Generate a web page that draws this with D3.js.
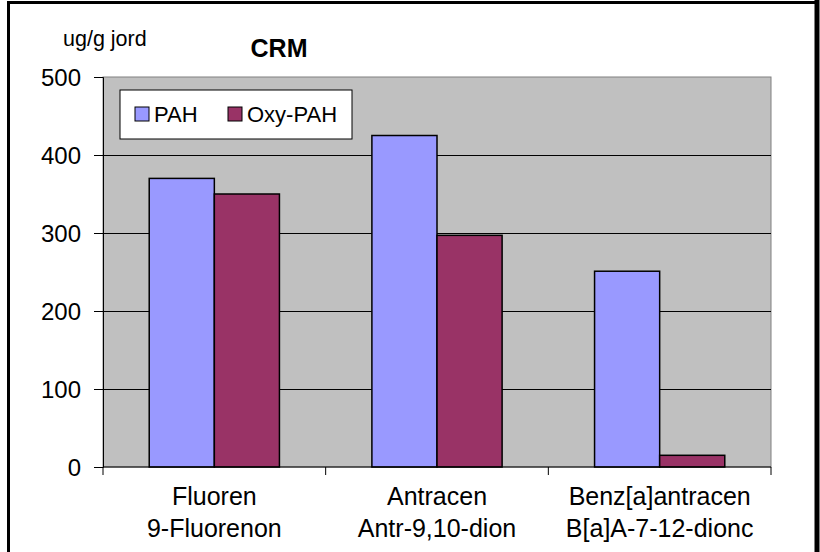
<!DOCTYPE html>
<html>
<head>
<meta charset="utf-8">
<script src="https://cdn.jsdelivr.net/npm/d3@7"></script>
<style>
  body { margin: 0; background: #fff; }
  svg text { font-family: "Liberation Sans", Arial, sans-serif; fill: #000; }
</style>
</head>
<body>
<div id="chart"></div>
<script>
// Data
var categories = [["Fluoren", "9-Fluorenon"], ["Antracen", "Antr-9,10-dion"], ["Benz[a]antracen", "B[a]A-7-12-dionc"]];
var seriesNames = ["PAH", "Oxy-PAH"];
var pahValues = [370, 425, 251];
var oxyValues = [350, 297, 15];
var yTicks = [0, 100, 200, 300, 400, 500];

var colors = ["#9999ff", "#993366"];

var W = 820, H = 552;
var margin = {top: 77, right: 49, bottom: 85, left: 103};
var width = W - margin.left - margin.right,
    height = H - margin.top - margin.bottom;

var svg = d3.select('#chart').append('svg')
  .attr('width', W)
  .attr('height', H);

// outer frame
svg.append('rect')
  .attr('x', 8.5).attr('y', 2.5)
  .attr('width', 808).attr('height', 560)
  .attr('fill', 'none')
  .attr('stroke', '#000')
  .attr('stroke-width', 3);
svg.append('line')
  .attr('x1', 817).attr('x2', 817)
  .attr('y1', 0).attr('y2', H)
  .attr('stroke', '#000')
  .attr('stroke-width', 5);

var g = svg.append('g')
  .attr('transform', 'translate(' + margin.left + ',' + margin.top + ')');

// scales
var x0 = d3.scaleBand()
  .domain(d3.range(categories.length))
  .range([0, width]);

var x1 = d3.scaleBand()
  .domain(d3.range(seriesNames.length))
  .range([0, x0.bandwidth()])
  .paddingOuter(0.71)
  .paddingInner(0);

var y = d3.scaleLinear()
  .domain([0, 500])
  .range([height, 0]);

// plot background
g.append('rect')
  .attr('width', width)
  .attr('height', height)
  .attr('fill', '#c0c0c0')
  .attr('stroke', '#808080')
  .attr('stroke-width', 1);

// gridlines
g.append('g')
  .selectAll('line')
  .data(yTicks.filter(function(d){ return d > 0 && d < 500; }))
  .enter().append('line')
  .attr('x1', 0).attr('x2', width)
  .attr('y1', function(d){ return Math.round(y(d)) + 0.5; })
  .attr('y2', function(d){ return Math.round(y(d)) + 0.5; })
  .attr('stroke', '#000')
  .attr('stroke-width', 1);

// bars
var data = categories.map(function(c, i){
  return {cat: i, values: [pahValues[i], oxyValues[i]]};
});

g.append('g')
  .selectAll('g')
  .data(data)
  .enter().append('g')
  .attr('transform', function(d){ return 'translate(' + x0(d.cat) + ',0)'; })
  .selectAll('rect')
  .data(function(d){ return d.values.map(function(v, j){ return {s: j, v: v}; }); })
  .enter().append('rect')
  .attr('x', function(d){ return x1(d.s); })
  .attr('y', function(d){ return y(d.v); })
  .attr('width', x1.bandwidth())
  .attr('height', function(d){ return height - y(d.v); })
  .attr('fill', function(d){ return colors[d.s]; })
  .attr('stroke', '#000')
  .attr('stroke-width', 1.5);

// y axis
var yAxis = d3.axisLeft(y)
  .tickValues(yTicks)
  .tickSize(9)
  .tickPadding(13);

var yg = g.append('g')
  .call(yAxis);
yg.select('.domain').attr('stroke', '#000');
yg.selectAll('.tick line').attr('stroke', '#000');
yg.selectAll('text')
  .style('font-size', '24px')
  .style('font-family', '"Liberation Sans", Arial, sans-serif')
  .attr('dy', '0.36em')
  .attr('fill', '#000');

// x axis
var xg = g.append('g')
  .attr('transform', 'translate(0,' + height + ')');
xg.append('line')
  .attr('x1', 0).attr('x2', width)
  .attr('y1', 0).attr('y2', 0)
  .attr('stroke', '#000');
xg.selectAll('.xtick')
  .data(d3.range(categories.length + 1))
  .enter().append('line')
  .attr('x1', function(d){ return d * x0.step(); })
  .attr('x2', function(d){ return d * x0.step(); })
  .attr('y1', 0).attr('y2', 8)
  .attr('stroke', '#000');

var labels = xg.selectAll('.xlabel')
  .data(categories)
  .enter().append('text')
  .attr('text-anchor', 'middle')
  .attr('x', function(d, i){ return x0(i) + x0.bandwidth() / 2; })
  .style('font-size', '25px');
labels.append('tspan')
  .attr('x', function(d, i){ return x0(i) + x0.bandwidth() / 2; })
  .attr('y', 38)
  .text(function(d){ return d[0]; });
labels.append('tspan')
  .attr('x', function(d, i){ return x0(i) + x0.bandwidth() / 2; })
  .attr('y', 70)
  .text(function(d){ return d[1]; });

// titles
svg.append('text')
  .attr('x', 279).attr('y', 57)
  .attr('text-anchor', 'middle')
  .style('font-size', '25px')
  .style('font-weight', 'bold')
  .text('CRM');

svg.append('text')
  .attr('x', 63).attr('y', 46)
  .style('font-size', '21.5px')
  .text('ug/g jord');

// legend
var legend = g.append('g')
  .attr('transform', 'translate(17,13)');
legend.append('rect')
  .attr('width', 232).attr('height', 49)
  .attr('fill', '#fff')
  .attr('stroke', '#000')
  .attr('stroke-width', 1);

var legendX = [15, 108];
var items = legend.selectAll('.item')
  .data(seriesNames)
  .enter().append('g')
  .attr('transform', function(d, i){ return 'translate(' + legendX[i] + ',17)'; });
items.append('rect')
  .attr('width', 14).attr('height', 14)
  .attr('fill', function(d, i){ return colors[i]; })
  .attr('stroke', '#000')
  .attr('stroke-width', 1);
items.append('text')
  .attr('x', 19).attr('y', 14.5)
  .style('font-size', '22px')
  .text(function(d){ return d; });
</script>
</body>
</html>
